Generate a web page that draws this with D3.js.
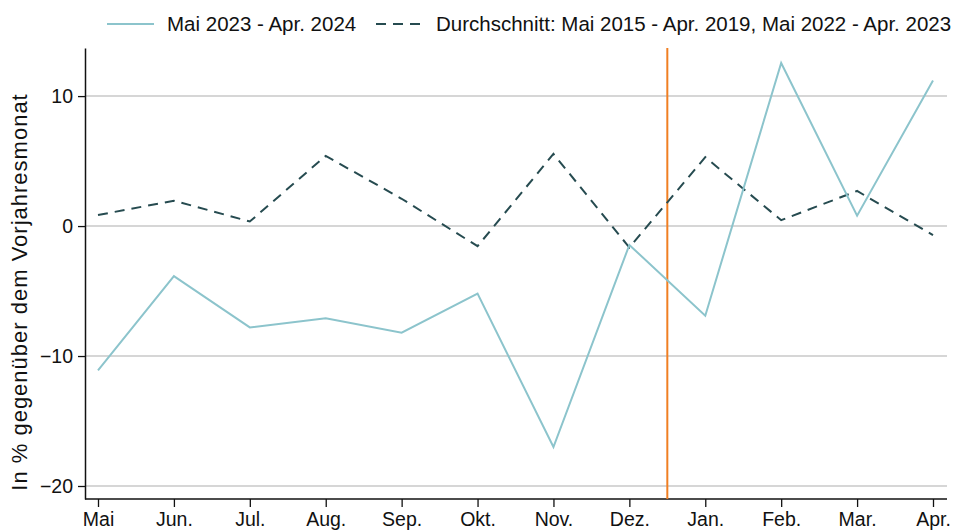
<!DOCTYPE html>
<html>
<head>
<meta charset="utf-8">
<script src="https://cdn.jsdelivr.net/npm/d3@7"></script>
<style>
  body { margin: 0; background: #fff; }
  svg text { font-family: "Liberation Sans", Arial, sans-serif; fill: #111; }
</style>
</head>
<body>
<div class="chart"></div>
<script>
const WIDTH = 954;
const HEIGHT = 530;

const months = ['Mai', 'Jun.', 'Jul.', 'Aug.', 'Sep.', 'Okt.', 'Nov.', 'Dez.', 'Jan.', 'Feb.', 'Mar.', 'Apr.'];
const current = [-11.1, -3.85, -7.8, -7.1, -8.2, -5.2, -17.0, -1.45, -6.9, 12.55, 0.8, 11.2];
const average = [0.85, 1.95, 0.35, 5.4, 2.1, -1.55, 5.55, -1.65, 5.3, 0.45, 2.7, -0.7];
const yTicks = [-20, -10, 0, 10];
const seriesNames = ['Mai 2023 - Apr. 2024', 'Durchschnitt: Mai 2015 - Apr. 2019, Mai 2022 - Apr. 2023'];

const plotLeft = 85, plotRight = 947, plotTop = 48, plotBottom = 499;

const svg = d3.select('.chart')
    .append('svg')
    .attr('width', WIDTH)
    .attr('height', HEIGHT);

const x = d3.scalePoint().domain(months).range([98, 933]);
const y = d3.scaleLinear().domain([-21, 13.7]).range([plotBottom, plotTop]);

// grid
svg.append('g')
    .selectAll('line')
    .data(yTicks)
    .enter().append('line')
    .attr('x1', plotLeft).attr('x2', plotRight)
    .attr('y1', (d) => y(d)).attr('y2', (d) => y(d))
    .attr('stroke', '#c8c8c8')
    .attr('stroke-width', 1.5);

// axes
const yAxis = svg.append('g')
    .attr('transform', `translate(${plotLeft},0)`)
    .call(d3.axisLeft(y).tickValues(yTicks).tickSize(7).tickPadding(5).tickSizeOuter(0));
yAxis.select('.domain').attr('stroke', '#111').attr('stroke-width', 1.5);
yAxis.selectAll('.tick line').attr('stroke', '#111').attr('stroke-width', 1.3);
yAxis.selectAll('.tick text').style('font-size', '19.5px');

const xAxis = svg.append('g')
    .attr('transform', `translate(0,${plotBottom})`)
    .call(d3.axisBottom(x).tickSize(8).tickPadding(5).tickSizeOuter(0));
xAxis.select('.domain').attr('d', `M${plotLeft},0H${plotRight}`).attr('stroke', '#111').attr('stroke-width', 1.5);
xAxis.selectAll('.tick line').attr('stroke', '#111').attr('stroke-width', 1.3);
xAxis.selectAll('.tick text').style('font-size', '19.5px');

svg.append('text')
    .attr('transform', 'translate(27,292) rotate(-90)')
    .attr('text-anchor', 'middle')
    .style('font-size', '22px')
    .style('letter-spacing', '1px')
    .text('In % gegenüber dem Vorjahresmonat');

// vertical marker between Dez. and Jan.
const mx = (x('Dez.') + x('Jan.')) / 2;
svg.append('line')
    .attr('x1', mx).attr('x2', mx)
    .attr('y1', plotTop).attr('y2', plotBottom)
    .attr('stroke', '#f07f22')
    .attr('stroke-width', 2);

const line = d3.line()
    .x((d, i) => x(months[i]))
    .y((d) => y(d));

svg.append('path')
    .datum(average)
    .attr('d', line)
    .attr('fill', 'none')
    .attr('stroke', '#264b50')
    .attr('stroke-width', 2)
    .attr('stroke-dasharray', '10,7');

svg.append('path')
    .datum(current)
    .attr('d', line)
    .attr('fill', 'none')
    .attr('stroke', '#8cc4cc')
    .attr('stroke-width', 2);

// legend
const legend = svg.append('g');
legend.append('line')
    .attr('x1', 107).attr('x2', 154).attr('y1', 24).attr('y2', 24)
    .attr('stroke', '#8cc4cc').attr('stroke-width', 2);
legend.append('text')
    .attr('x', 167).attr('y', 31)
    .style('font-size', '20.5px')
    .text(seriesNames[0]);
legend.append('line')
    .attr('x1', 376).attr('x2', 423).attr('y1', 24).attr('y2', 24)
    .attr('stroke', '#264b50').attr('stroke-width', 2)
    .attr('stroke-dasharray', '10,7');
legend.append('text')
    .attr('x', 436).attr('y', 31)
    .style('font-size', '20.5px')
    .text(seriesNames[1]);
</script>
</body>
</html>
